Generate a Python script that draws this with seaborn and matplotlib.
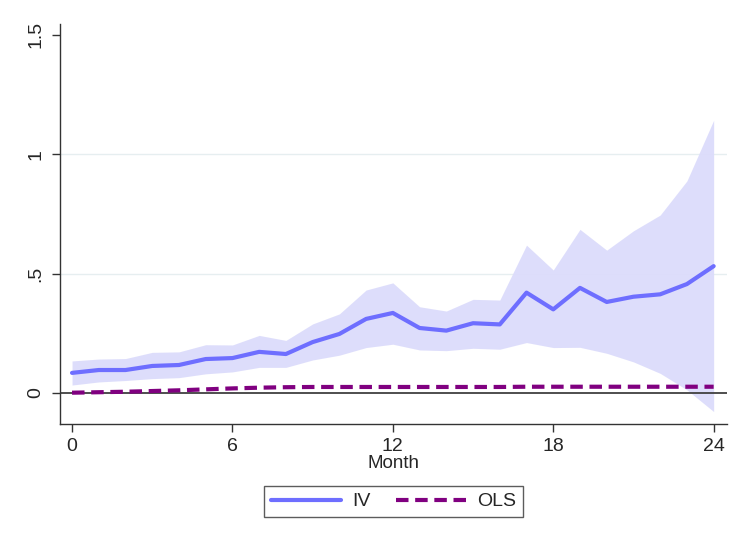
import matplotlib
matplotlib.use('Agg')
import matplotlib.pyplot as plt
import pandas as pd
import seaborn as sns

# values
month = list(range(25))
iv = [0.084, 0.096, 0.096, 0.113, 0.117, 0.142, 0.146, 0.172, 0.163, 0.213, 0.247,
      0.310, 0.335, 0.272, 0.261, 0.292, 0.287, 0.420, 0.350, 0.440, 0.381, 0.403,
      0.413, 0.456, 0.531]
iv_hi = [0.134, 0.142, 0.144, 0.170, 0.172, 0.202, 0.201, 0.241, 0.220, 0.289, 0.331,
         0.431, 0.461, 0.361, 0.343, 0.392, 0.389, 0.619, 0.515, 0.685, 0.598, 0.679,
         0.745, 0.888, 1.142]
iv_lo = [0.033, 0.046, 0.052, 0.060, 0.064, 0.080, 0.088, 0.107, 0.107, 0.138, 0.158,
         0.190, 0.204, 0.180, 0.177, 0.187, 0.183, 0.211, 0.190, 0.191, 0.166, 0.130,
         0.082, 0.013, -0.078]
ols = [0.001, 0.003, 0.005, 0.008, 0.011, 0.015, 0.019, 0.022, 0.024, 0.025, 0.025,
       0.025, 0.025, 0.025, 0.025, 0.025, 0.025, 0.026, 0.026, 0.026, 0.026, 0.026,
       0.026, 0.026, 0.026]

df = pd.DataFrame({'Month': month, 'IV': iv, 'lo': iv_lo, 'hi': iv_hi, 'OLS': ols})

sns.set_style('white')
plt.rcParams['font.family'] = ['Liberation Sans', 'DejaVu Sans']

fig = plt.figure(figsize=(7.39, 5.41), dpi=100)
ax = fig.add_axes([0.0812, 0.2163, 0.9026, 0.7393])

ax.fill_between(df['Month'], df['lo'], df['hi'], color='#dcdcfb', alpha=0.95, lw=0, zorder=1)
for yv in [0.5, 1.0]:
    ax.axhline(yv, color='#e6eef0', lw=1, zorder=0.5)
ax.axhline(0, color='#404040', lw=1.3, zorder=2)
sns.lineplot(data=df, x='Month', y='IV', ax=ax, color='#6e6eff', lw=3, label='IV', zorder=3)
sns.lineplot(data=df, x='Month', y='OLS', ax=ax, color='#800080', lw=3,
             linestyle=(0, (3, 1.6)), label='OLS', zorder=4)

ax.set_xlim(-0.45, 24.5)
ax.set_ylim(-0.13, 1.545)
ax.set_xticks([0, 6, 12, 18, 24])
ax.set_yticks([0, 0.5, 1, 1.5])
ax.set_yticklabels(['0', '.5', '1', '1.5'], rotation=90, va='center')
ax.set_xlabel('Month', fontsize=13.5, labelpad=0)
ax.set_ylabel('')
ax.tick_params(axis='both', direction='out', length=6, width=1, color='#333333',
               labelsize=14, bottom=True, left=True)
ax.tick_params(axis='x', pad=4)
ax.tick_params(axis='y', pad=5)
for s in ['top', 'right']:
    ax.spines[s].set_visible(False)
for s in ['left', 'bottom']:
    ax.spines[s].set_color('#333333')
    ax.spines[s].set_linewidth(1)

leg = ax.legend(loc='upper center', bbox_to_anchor=(0.5, -0.155), ncol=2, frameon=True,
                fancybox=False, edgecolor='#333333', fontsize=14, handlelength=3.6,
                handletextpad=0.6, columnspacing=1.3, borderpad=0.35, borderaxespad=0)
leg.get_frame().set_linewidth(1)

fig.savefig('out.png', dpi=100)
